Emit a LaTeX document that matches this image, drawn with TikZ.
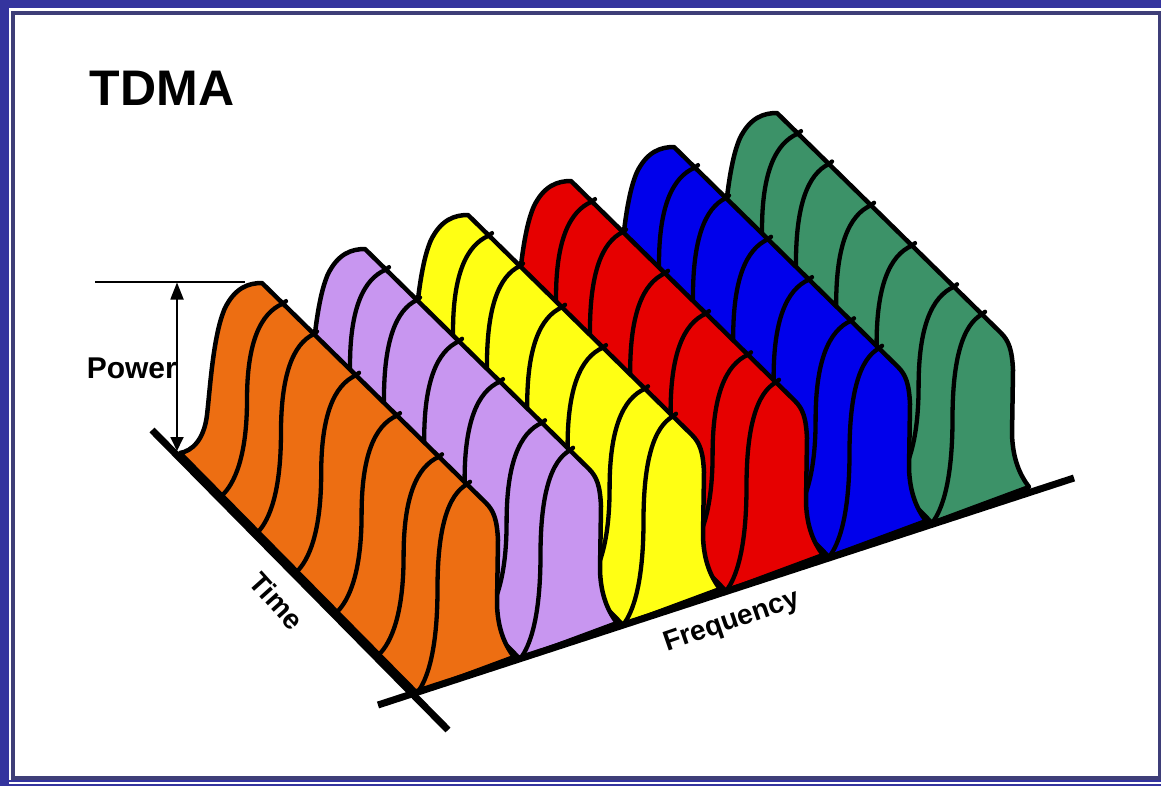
\documentclass[tikz,border=0pt]{standalone}
\usepackage{fontspec}
\setmainfont{Liberation Sans}
\usetikzlibrary{arrows.meta}
\definecolor{cOrange}{RGB}{237,110,18}
\definecolor{cPurple}{RGB}{200,150,240}
\definecolor{cYellow}{RGB}{255,255,20}
\definecolor{cRed}{RGB}{230,0,0}
\definecolor{cBlue}{RGB}{0,0,235}
\definecolor{cGreen}{RGB}{60,146,104}
\definecolor{frameBlue}{RGB}{52,52,158}
\definecolor{frameDark}{RGB}{62,62,120}
\tikzset{
  ridge/.style={draw=black, line width=4.5pt, line join=round},
  sline/.style={draw=black, line width=4.3pt, line cap=round},
  axisline/.style={draw=black, line width=7pt},
  thinline/.style={draw=black, line width=1.8pt},
  lab/.style={font=\bfseries\fontsize{28}{30}\selectfont, inner sep=0pt},
}
% S-shaped cross-section line from base (#1,#2) to top (#3,#4)
\newcommand\tdmaS[4]{%
  \pgfmathsetmacro\tdmaDx{#3-#1}%
  \pgfmathsetmacro\tdmaH{#2-#4}%
  \pgfmathsetmacro\tdmaMx{#1+0.41*\tdmaDx}%
  \pgfmathsetmacro\tdmaMy{#2-0.5*\tdmaH}%
  \pgfmathsetmacro\tdmaAx{#1+0.2*\tdmaDx}%
  \pgfmathsetmacro\tdmaAy{#2-0.06*\tdmaH}%
  \pgfmathsetmacro\tdmaBy{#2-0.2*\tdmaH}%
  \pgfmathsetmacro\tdmaCy{#4+0.21*\tdmaH}%
  \pgfmathsetmacro\tdmaDxx{#3-0.38*\tdmaDx}%
  \pgfmathsetmacro\tdmaDy{#4+0.05*\tdmaH}%
  \draw[sline] (#1,#2) .. controls (\tdmaAx,\tdmaAy) and (\tdmaMx,\tdmaBy) .. (\tdmaMx,\tdmaMy)
    .. controls (\tdmaMx,\tdmaCy) and (\tdmaDxx,\tdmaDy) .. (#3,#4) -- ++(3,-2.5);%
}
\begin{document}
\begin{tikzpicture}[x=1pt,y=-1pt]
\useasboundingbox (0,0) rectangle (1161,786);
\fill[white] (0,0) rectangle (1161,786);
% frame
\fill[frameBlue] (0,0) rectangle (1161,8.5);
\fill[frameBlue] (0,0) rectangle (8.5,786);
\fill[frameBlue] (0,779.5) rectangle (1161,782);
\fill[frameBlue] (0,784) rectangle (1161,786);
\draw[frameDark, line width=4pt] (12.75,13) rectangle (1159.5,778);
% ridges, back to front
\foreach \k/\col in {5/cGreen,4/cBlue,3/cRed,2/cYellow,1/cPurple,0/cOrange}{
  \begin{scope}[shift={(103*\k,-34*\k)}]
    \path[ridge, fill=\col] (180,453) .. controls (192,451) and (204,440) .. (207,415)
      .. controls (210,390) and (213,335) .. (225,308)
      .. controls (235,288) and (248,283) .. (262,283)
      -- (486,503) .. controls (494,511) and (497,520) .. (498,540)
      -- (497,605) .. controls (498,630) and (505,645) .. (514,657)
      -- (417,693) -- cycle;
    \tdmaS{222}{495.5}{283}{303.6}
    \tdmaS{258}{532}{314}{334}
    \tdmaS{297}{571.5}{356}{375.3}
    \tdmaS{337}{612}{397}{415.6}
    \tdmaS{379}{654.5}{439}{456.8}
    \tdmaS{417}{693}{467}{484.3}
  \end{scope}
}
% axes
\coordinate (t0) at (152,430);
\coordinate (t1) at (448,730);
\coordinate (f0) at (378,705);
\coordinate (f1) at (1074,478);
\draw[axisline] (t0) -- (t1);
\draw[axisline] (f0) -- (f1);
% power marker
\coordinate (p0) at (95,282);
\coordinate (p1) at (245,282);
\coordinate (pa) at (177,282.5);
\coordinate (pb) at (177,451);
\draw[thinline] (p0) -- (p1);
\draw[thinline, {Triangle[width=13pt,length=17pt]}-{Triangle[width=13pt,length=14pt]}] (pa) -- (pb);
% labels
\node[font=\bfseries\fontsize{50}{52}\selectfont, inner sep=0pt] (title) at (162,88) {TDMA};
\node[lab, anchor=east, font=\bfseries\fontsize{30}{32}\selectfont] (pw) at (177,368) {Power};
\node[lab, rotate=-48] (tm) at (277,601) {Time};
\node[lab, rotate=19] (fq) at (732,622) {Frequency};
\end{tikzpicture}
\end{document}
